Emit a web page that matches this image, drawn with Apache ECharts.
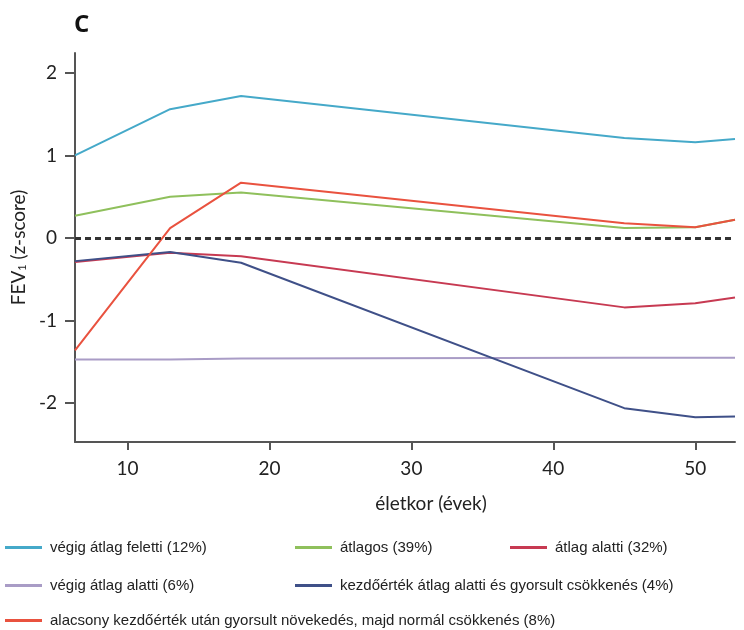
<!DOCTYPE html>
<html>
<head>
<meta charset="utf-8">
<script src="https://cdn.jsdelivr.net/npm/echarts@6/dist/echarts.min.js"></script>
<style>
html,body{margin:0;padding:0;background:#fff;}
#chart{width:744px;height:630px;}
</style>
</head>
<body>
<div id="chart"></div>
<script>
/*életkor (évek) - töréspontok*/
var ages=[6.3,13,18,45,50,52.8];
/*sorozatok értékei (z-score)*/
var feletti=[1.00,1.56,1.72,1.21,1.16,1.20];
var atlagos=[0.27,0.50,0.55,0.12,0.13,0.22];
var alatti=[-0.29,-0.18,-0.22,-0.84,-0.79,-0.72];
var vegigAlatti=[-1.47,-1.47,-1.46,-1.45,-1.45,-1.45];
var gyorsCsokk=[-0.28,-0.17,-0.30,-2.06,-2.17,-2.16];
var alacsonyNov=[-1.36,0.12,0.67,0.18,0.13,0.22];
/*tengely jelölések*/
var xTicks=[10,20,30,40,50];
var yTicks=[-2,-1,0,1,2];
var names=[
	"végig átlag feletti (12%)",
	"átlagos (39%)",
	"átlag alatti (32%)",
	"végig átlag alatti (6%)",
	"kezdőérték átlag alatti és gyorsult csökkenés (4%)",
	"alacsony kezdőérték után gyorsult növekedés, majd normál csökkenés (8%)"
];
var colors=['#45a9c9','#8fc05c','#c73a52','#a99cc6','#3f5088','#e9523f'];
var values=[feletti,atlagos,alatti,vegigAlatti,gyorsCsokk,alacsonyNov];

/*pontpárok összeállítása*/
var toPairs=function(vals){
	var d=[];
	for(var i=0;i<ages.length;i++){
		d.push([ages[i],vals[i]]);
	}
	return d;
};

var series=[];
for(var s=0;s<values.length;s++){
	series.push({
		name:names[s],
		type:'line',
		data:toPairs(values[s]),
		showSymbol:false,
		symbol:'none',
		color:colors[s],
		lineStyle:{width:2,color:colors[s]},
		z:3
	});
}
/*nulla szint szaggatott vonal*/
series[0].markLine={
	silent:true,
	symbol:'none',
	label:{show:false},
	lineStyle:{color:'#333',type:[6,4],width:3},
	data:[{yAxis:0}],
	z:5
};

/*jelmagyarázat pozíciók*/
var legPos=[[5,540],[295,540],[510,540],[5,578],[295,578],[5,613]];
var legends=[];
for(var l=0;l<names.length;l++){
	legends.push({
		data:[names[l]],
		left:legPos[l][0],
		top:legPos[l][1],
		padding:0,
		icon:'rect',
		itemWidth:37,
		itemHeight:3,
		selectedMode:false,
		textStyle:{fontFamily:'Liberation Sans, Arial, sans-serif',fontSize:15,color:'#222',padding:[0,0,0,3]}
	});
}

var chart=echarts.init(document.getElementById('chart'));
chart.setOption({
	animation:false,
	title:{text:'C',left:74,top:13,padding:0,textStyle:{fontFamily:'Open Sans',fontWeight:'bold',fontSize:24,color:'#111'}},
	legend:legends,
	grid:{left:75,right:9,top:53,bottom:188},
	xAxis:{
		type:'value',
		min:6.3,
		max:52.8,
		name:'életkor (évek)',
		nameLocation:'middle',
		nameGap:52,
		nameTextStyle:{fontFamily:'Lato',fontSize:19,color:'#222',padding:[0,0,0,52]},
		axisLine:{onZero:false,lineStyle:{color:'#555',width:2}},
		axisTick:{show:true,customValues:xTicks,length:8,lineStyle:{color:'#555',width:2}},
		axisLabel:{customValues:xTicks,margin:17,fontFamily:'Lato',fontSize:19,color:'#222'},
		splitLine:{show:false}
	},
	yAxis:{
		type:'value',
		min:-2.47,
		max:2.24,
		name:'FEV{sub|1} (z-score)',
		nameLocation:'middle',
		nameGap:40,
		nameRotate:90,
		nameTextStyle:{fontFamily:'Lato',fontSize:19,color:'#222',
			rich:{sub:{fontFamily:'Lato',fontSize:11,color:'#222',verticalAlign:'bottom',padding:[6,0,0,0]}}},
		axisLine:{show:true,onZero:false,lineStyle:{color:'#555',width:2}},
		axisTick:{show:true,customValues:yTicks,length:10,inside:false,lineStyle:{color:'#555',width:2}},
		axisLabel:{customValues:yTicks,margin:18,fontFamily:'Lato',fontSize:19,color:'#222'},
		splitLine:{show:false}
	},
	series:series
});
</script>
</body>
</html>
